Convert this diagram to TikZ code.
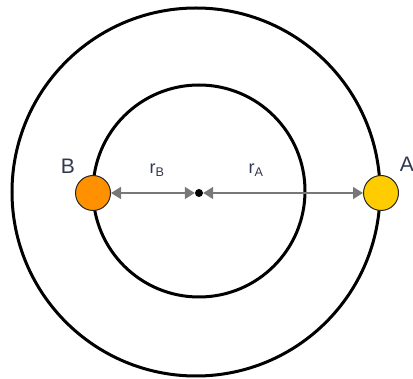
\documentclass[tikz,border=0pt]{standalone}
\usepackage{fontspec}
\setmainfont{Liberation Sans}
\usetikzlibrary{arrows.meta}
\definecolor{txt}{RGB}{50,55,80}
\definecolor{balla}{RGB}{255,204,0}
\definecolor{ballb}{RGB}{255,145,0}
\definecolor{arr}{RGB}{120,120,120}
\begin{document}
\begin{tikzpicture}[x=1pt,y=-1pt,
  ring/.style={draw=black,line width=3pt},
  ball/.style={circle,draw=black!85,line width=1pt,minimum size=35pt,inner sep=0pt},
  radius arrow/.style={draw=arr,line width=1.4pt,{Triangle[length=10pt,width=12pt]}-{Triangle[length=10pt,width=12pt]}},
  lbl/.style={text=txt,font=\fontsize{21}{23}\selectfont,inner sep=0pt},
  rlbl/.style={text=txt,font=\fontsize{18}{20}\selectfont,inner sep=0pt}]
\useasboundingbox (0,0) rectangle (413,379);
\draw[ring] (196,192) circle (184);
\draw[ring] (199,191) circle (106);
\node[circle,fill=black,minimum size=8pt,inner sep=0pt] (c) at (199,193) {};
\node[ball,fill=ballb] (B) at (93,193) {};
\node[ball,fill=balla] (A) at (381,193) {};
\draw[radius arrow] (B.east) -- (c.west);
\draw[radius arrow] (c.east) -- (A.west);
\node[lbl] (lB) at (68,166) {B};
\node[lbl] (lA) at (407,164) {A};
\node[rlbl] (rB) at (157,170) {r\textsubscript{B}};
\node[rlbl] (rA) at (256,170) {r\textsubscript{A}};
\end{tikzpicture}
\end{document}
